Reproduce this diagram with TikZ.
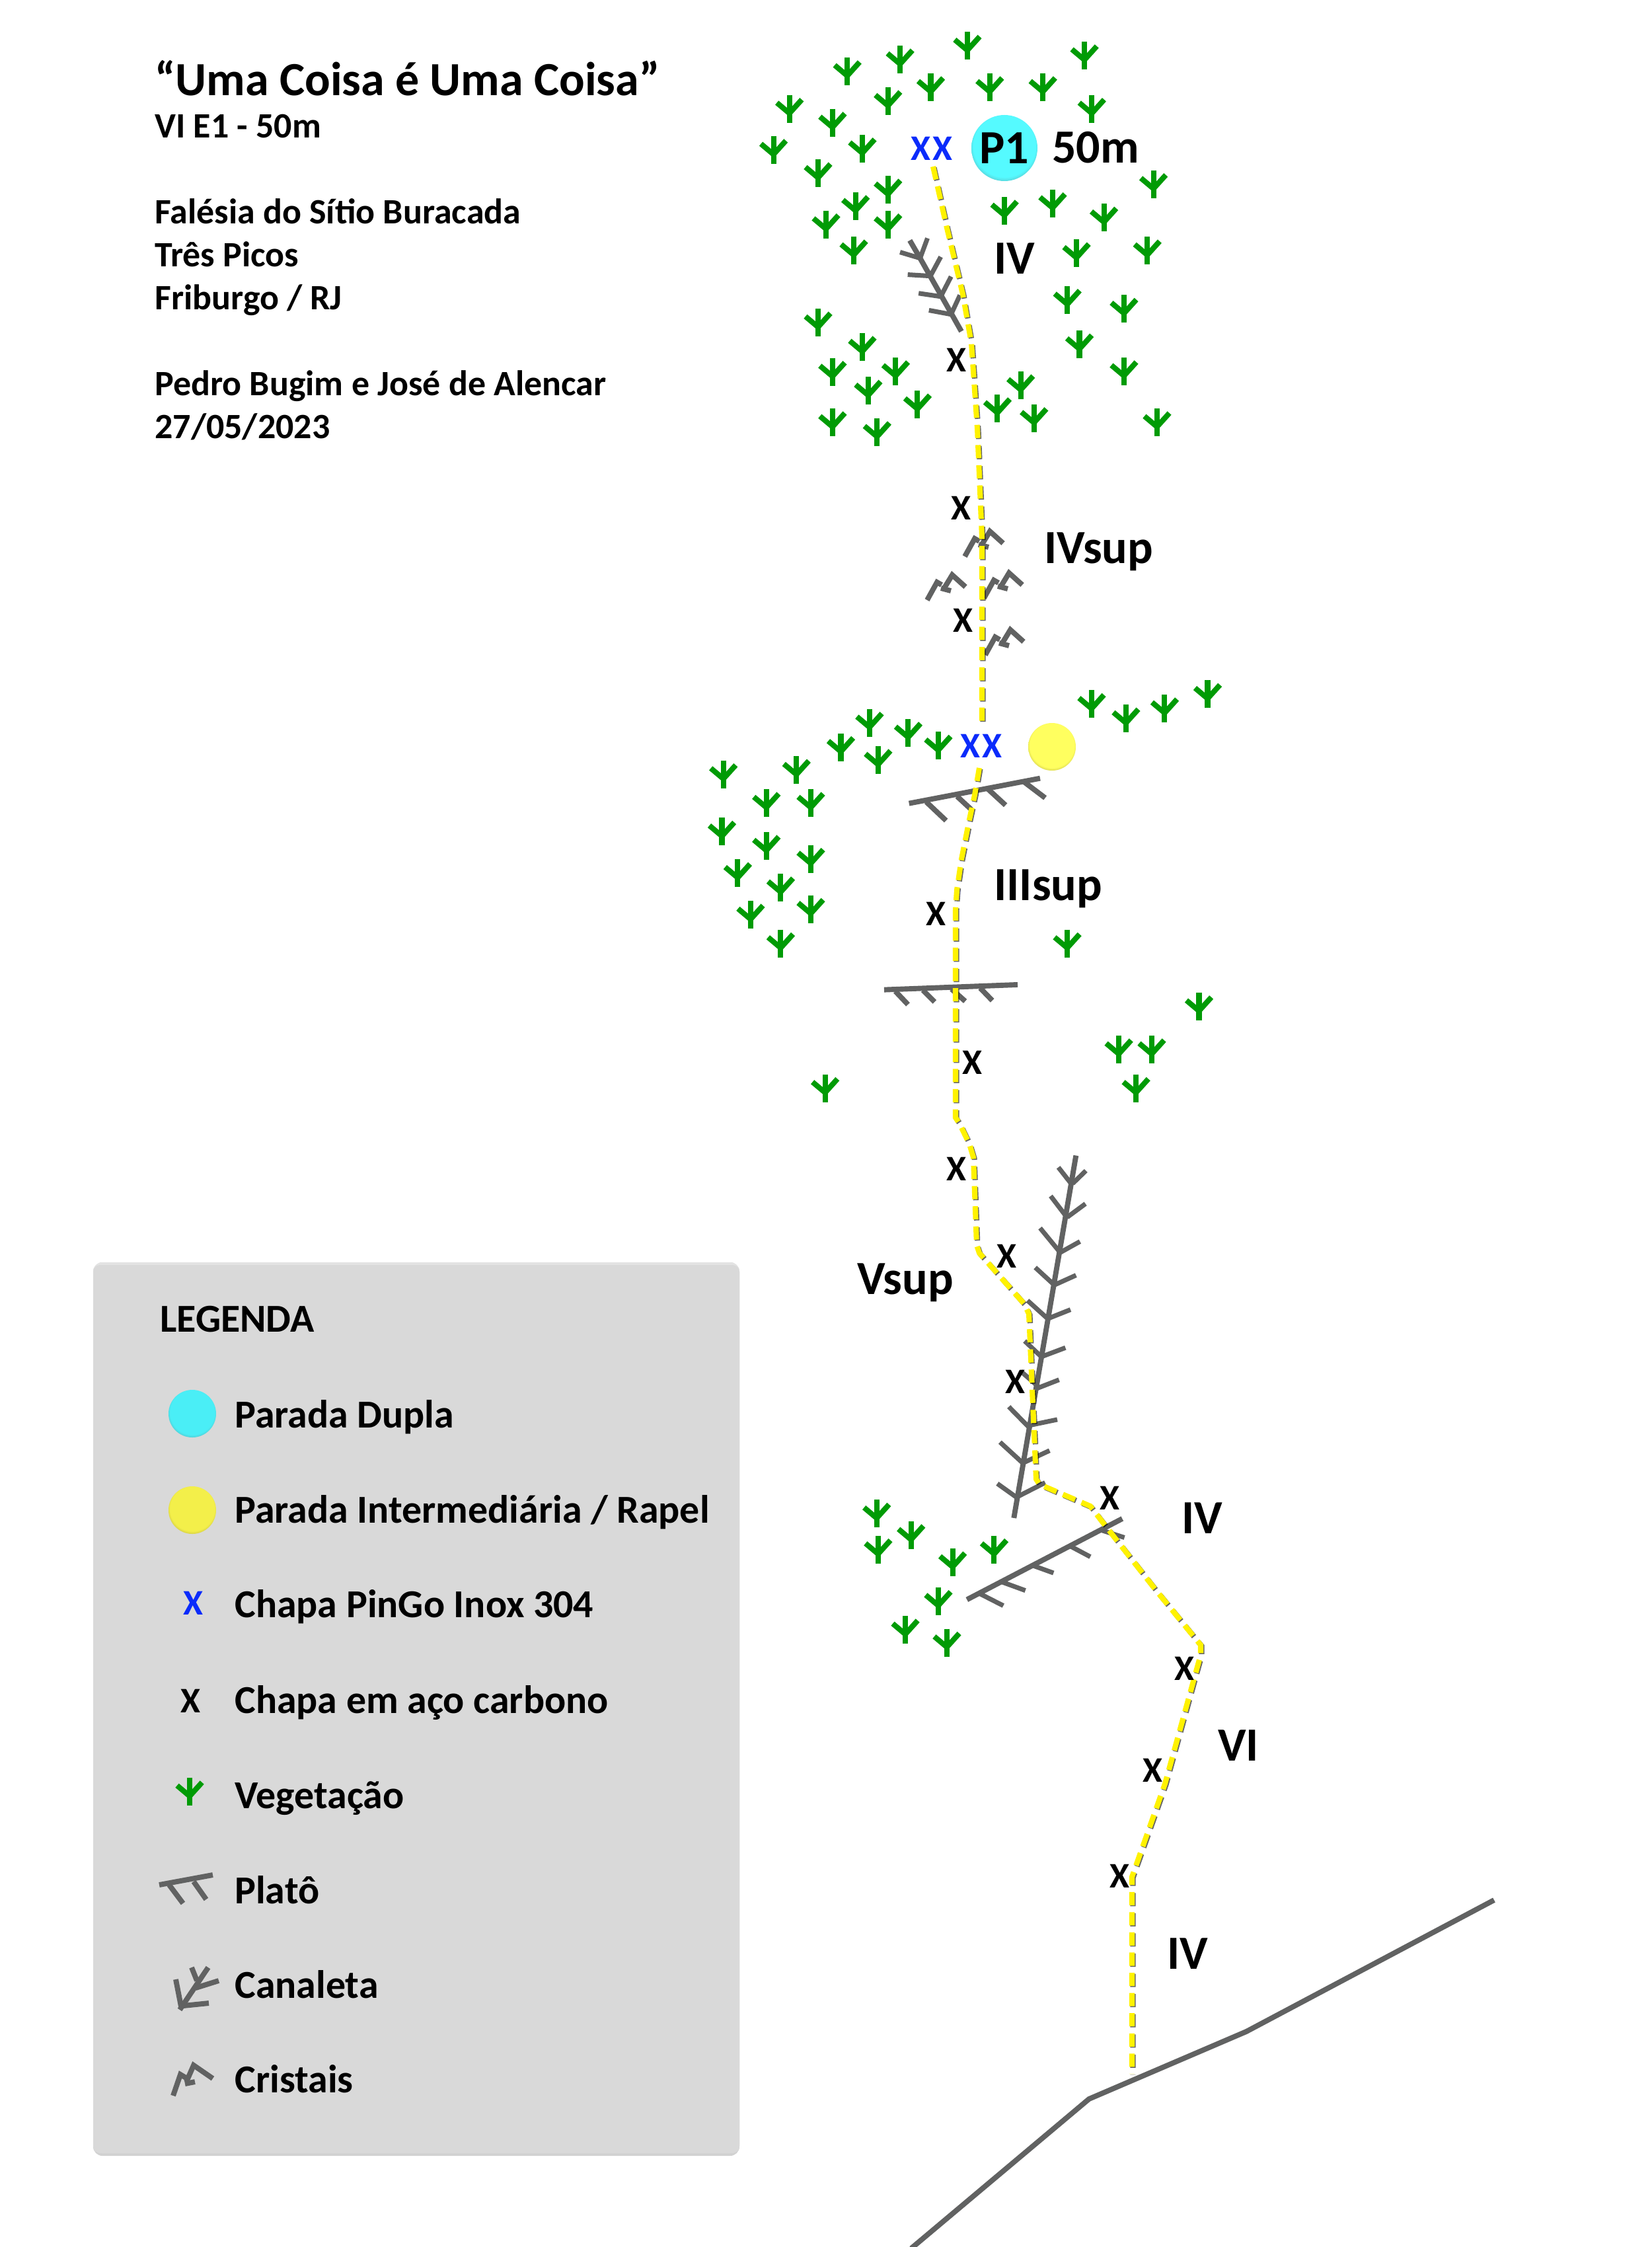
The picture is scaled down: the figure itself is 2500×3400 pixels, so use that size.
\documentclass[tikz,border=0pt]{standalone}
\usepackage{fontspec}
\setmainfont{Carlito}
\definecolor{veg}{HTML}{009B05}
\definecolor{rock}{HTML}{616262}
\definecolor{bolt}{HTML}{0B2BFB}
\definecolor{panel}{HTML}{D9D9D9}
\definecolor{cyanmain}{HTML}{55FAFF}
\definecolor{cyanedge}{HTML}{5AA8AE}
\definecolor{yelmain}{HTML}{FFFF5F}
\definecolor{yeledge}{HTML}{B0A840}
\definecolor{cyanleg}{HTML}{4AEEF6}
\definecolor{yelleg}{HTML}{F3EF4A}
\pgfdeclareradialshading{ballcyan}{\pgfpoint{0bp}{3bp}}{color(0bp)=(cyanmain);color(23.5bp)=(cyanmain);color(26bp)=(cyanmain!65!cyanedge);color(28bp)=(cyanedge);color(50bp)=(cyanedge)}
\pgfdeclareradialshading{ballyel}{\pgfpoint{0bp}{3bp}}{color(0bp)=(yelmain);color(23.5bp)=(yelmain);color(26bp)=(yelmain!65!yeledge);color(28bp)=(yeledge);color(50bp)=(yeledge)}
\pgfdeclareradialshading{legcyan}{\pgfpoint{0bp}{3bp}}{color(0bp)=(cyanleg);color(23.5bp)=(cyanleg);color(26bp)=(cyanleg!65!cyanedge);color(28bp)=(cyanedge);color(50bp)=(cyanedge)}
\pgfdeclareradialshading{legyel}{\pgfpoint{0bp}{3bp}}{color(0bp)=(yelleg);color(23.5bp)=(yelleg);color(26bp)=(yelleg!65!yeledge);color(28bp)=(yeledge);color(50bp)=(yeledge)}
\newcommand{\fLab}{\fontsize{41}{48}\selectfont\bfseries}
\newcommand{\fTitle}{\fontsize{41}{46}\selectfont\bfseries}
\newcommand{\fInfo}{\fontsize{30.7}{34}\selectfont\bfseries}
\newcommand{\fLeg}{\fontsize{34.1}{37}\selectfont\bfseries}
\newcommand{\fBolt}{\fontsize{31}{37}\selectfont\bfseries}
\tikzset{
  plant/.pic={
    \draw[veg,line width=4.6pt] (0,-21)--(0,21);
    \draw[veg,line width=4.6pt] (-19,-9.3)--(0,6.7)--(18.7,-14);
  },
  rockline/.style={draw=rock,line width=4.5pt},
  rockthin/.style={draw=rock,line width=4pt},
  route/.style={draw=yellow,line width=4.6pt,dash pattern=on 11.4pt off 6pt},
  routeshadow/.style={draw=black,opacity=.6,line width=4.6pt,dash pattern=on 11.4pt off 6pt,shift={(1.5,1.5)}},
  txt/.style={anchor=base west,inner sep=0pt,text=black},
  blackmark/.style={inner sep=0pt,text=black,font=\fBolt},
  bluemark/.style={inner sep=0pt,text=bolt,font=\fBolt},
  crystal/.pic={
    \draw[rockline] (0,0)--(15,-27)--(22,-23);
    \draw[rockline] (24,-15)--(38,-38)--(58,-20);
    \draw[rockline] (21,-18)--(36,-14);
  }
}
\begin{document}
\begin{tikzpicture}[x=0.02cm,y=-0.02cm]
\useasboundingbox (0,0) rectangle (2500,3400);
\fill[white] (0,0) rectangle (2500,3400);

% title block
\node[txt,font=\fTitle] (title) at (234,145) {“Uma Coisa é Uma Coisa”};
\node[txt,font=\fInfo] (t1) at (234,209) {VI E1 - 50m};
\node[txt,font=\fInfo] (t2) at (234,338) {Falésia do Sítio Buracada};
\node[txt,font=\fInfo] (t3) at (234,403) {Três Picos};
\node[txt,font=\fInfo] (t4) at (234,468) {Friburgo / RJ};
\node[txt,font=\fInfo] (t5) at (234,598) {Pedro Bugim e José de Alencar};
\node[txt,font=\fInfo] (t6) at (234,663) {27/05/2023};

% vegetation
\foreach \x/\y in {815/95,1212/130,587/145,408/188,691/246,891/246,1071/246,546/297,1237/325,212/325,358/376,158/475,459/470,309/560,1446/600,546/620,436/680,1104/670,941/697,1278/722,546/747,336/747,430/842,1185/852,1425/842,1154/1022,1346/1055,309/1105,1195/1185,459/1194,358/1285,572/1283,1346/1283,996/1334,479/1354,646/1404,917/1418,1041/1454,358/1469,1458/1469,509/1505}
  \pic at ({1100+\x/2.24},{30+\y/2.412}) {plant};
\foreach \x/\y in {761/491,785/501,812/494,842/484,606/504,586/521,633/511,654/520,612/530,555/537,504/540,534/560,565/560,503/580,534/590,565/599,514/609,544/619,523/638,565/634,544/658,744/658,836/702,780/732,803/732,792/759,575/759,611/1056,612/1081,635/1071,664/1090,693/1081,654/1117,631/1137,660/1146}
  \pic at ({\x*2.168+2},{\y*2.168+1}) {plant};

% upper canaleta
\begin{scope}[shift={(1100,30)},xscale=0.4464,yscale=0.4146]
  \draw[rockline] (795,1137)--(655,870)--(620,805);
  \draw[rockthin] (760,1075)--(685,1060) (760,1075)--(790,1005);
  \draw[rockthin] (725,1010)--(650,998) (725,1010)--(760,937);
  \draw[rockthin] (690,935)--(613,930) (690,935)--(725,865);
  \draw[rockthin] (655,870)--(587,848) (655,870)--(680,797);
\end{scope}

% crystals
\foreach \x/\y in {1460/842,1403/908,1489/905,1491/991}
  \pic at (\x,\y) {crystal};

% plateaus
\begin{scope}[shift={(1300,1100)},xscale=0.3333,yscale=0.3333]
  \draw[rockline] (227,347)--(822,233);
  \draw[rockline] (305,340)--(395,425) (445,315)--(510,375) (578,275)--(665,355) (750,250)--(845,322);
  \draw[rockline] (114,1193)--(720,1170);
  \draw[rockline] (165,1200)--(222,1260) (290,1195)--(343,1248) (420,1190)--(482,1245) (550,1185)--(605,1242);
\end{scope}

% lower canaleta and plateau
\begin{scope}[shift={(1300,1700)},xscale=0.3333,yscale=0.5102]
  \draw[rockline] (703,1170)--(985,95);
  \draw[rockthin] (718,1110)--(628,1068) (725,1105)--(845,1065);
  \draw[rockthin] (740,1005)--(640,945) (750,1005)--(865,970);
  \draw[rockthin] (770,900)--(680,840) (775,895)--(900,878);
  \draw[rockthin] (805,775)--(735,735) (810,785)--(908,760);
  \draw[rockthin] (825,690)--(752,645) (835,690)--(937,665);
  \draw[rockthin] (855,578)--(765,525) (860,578)--(960,552);
  \draw[rockthin] (885,478)--(800,427) (890,478)--(985,450);
  \draw[rockthin] (910,380)--(822,310) (915,382)--(1003,350);
  \draw[rockthin] (940,275)--(870,215) (945,278)--(1028,238);
  \draw[rockthin] (965,180)--(905,130) (970,178)--(1030,140);
  \draw[rockline] (490,1412)--(1195,1172);
  \draw[rockthin] (550,1395)--(655,1430) (650,1360)--(755,1385) (785,1310)--(883,1333) (955,1252)--(1050,1285) (1095,1205)--(1205,1228);
\end{scope}

% ground
\draw[rockline] (1379,3402)--(1648,3176)--(1886,3074)--(2261,2875);

% route
\path[routeshadow] (1412,252)--(1433,345)--(1457,445)--(1470,519)--(1479,648)--(1486,813)--(1486,1100);
\path[route] (1412,252)--(1433,345)--(1457,445)--(1470,519)--(1479,648)--(1486,813)--(1486,1100);
\path[routeshadow] (1482,1162)--(1475,1203)--(1467,1240)--(1455,1300)--(1448,1347)--(1446,1377)--(1446,1691)--(1452,1700)--(1467,1731)--(1473,1751)--(1478,1884)--(1482,1896)--(1550,1973)--(1557,1988)--(1568,2238)--(1573,2246)--(1650,2279)--(1670,2305)--(1750,2407)--(1817,2489)--(1817,2504)--(1763,2699)--(1713,2840)--(1713,3138);
\path[route] (1482,1162)--(1475,1203)--(1467,1240)--(1455,1300)--(1448,1347)--(1446,1377)--(1446,1691)--(1452,1700)--(1467,1731)--(1473,1751)--(1478,1884)--(1482,1896)--(1550,1973)--(1557,1988)--(1568,2238)--(1573,2246)--(1650,2279)--(1670,2305)--(1750,2407)--(1817,2489)--(1817,2504)--(1763,2699)--(1713,2840)--(1713,3138);

% bolts
\foreach \x/\y [count=\i] in {1447/545,1454/769,1457/939,1416/1383,1471/1608,1447/1769,1523/1901,1536/2091,1679/2267,1792/2525,1744/2679,1694/2839}
  \node[blackmark] (bk\i) at (\x,\y) {X};
\node[bluemark] (xx1) at (1410,225) {X\kern2pt X};
\node[bluemark] (xx2) at (1485,1129) {X\kern2pt X};

% stops
\shade[shading=ballcyan] (1520,224) circle[radius=50];
\node[inner sep=0pt,font=\fLab] (p1) at (1520,224) {P1};
\shade[shading=ballyel] (1592,1130) circle[radius=36];

% grade labels
\node[txt,font=\fLab] (l50) at (1592,247) {50m};
\node[txt,font=\fLab] (g1) at (1504,414) {IV};
\node[txt,font=\fLab] (g2) at (1580,852) {IVsup};
\node[txt,font=\fLab] (g3) at (1504,1362) {IIIsup};
\node[txt,font=\fLab] (g4) at (1297,1958) {Vsup};
\node[txt,font=\fLab] (g5) at (1788,2320) {IV};
\node[txt,font=\fLab] (g6) at (1843,2664) {VI};
\node[txt,font=\fLab] (g7) at (1766,2979) {IV};

% legend panel
\fill[black!18,rounded corners=8] (141,1910) rectangle (1119,3262);
\fill[black!11,rounded corners=8] (141,1910) rectangle (1119,3258);
\fill[panel,rounded corners=6] (141,1914) rectangle (1119,3258);
\node[txt,font=\fLeg] (lt) at (242,2015) {LEGENDA};
\shade[shading=legcyan] (291,2139) circle[radius=36];
\node[txt,font=\fLeg] (l1) at (355,2160) {Parada Dupla};
\shade[shading=legyel] (291,2285) circle[radius=36];
\node[txt,font=\fLeg] (l2) at (355,2304) {Parada Intermediária / Rapel};
\node[bluemark] (lb) at (292,2426) {X};
\node[txt,font=\fLeg] (l3) at (355,2447) {Chapa PinGo Inox 304};
\node[blackmark] (lk) at (288,2574) {X};
\node[txt,font=\fLeg] (l4) at (355,2592) {Chapa em aço carbono};
\pic at (287,2711) {plant};
\node[txt,font=\fLeg] (l5) at (355,2736) {Vegetação};
\draw[rockline] (241,2852)--(322,2837);
\draw[rockline] (256,2852)--(277,2880) (293,2847)--(312,2874);
\node[txt,font=\fLeg] (l6) at (355,2880) {Platô};
\draw[rockline] (272,3041)--(315,2977);
\draw[rockline] (274,3036)--(266,2995) (277,3035)--(316,3031) (296,3008)--(331,2997) (298,2997)--(290,2977);
\node[txt,font=\fLeg] (l7) at (355,3023) {Canaleta};
\draw[rockline] (262,3171)--(273,3139)--(283,3145);
\draw[rockline] (282,3150)--(293,3125)--(322,3145);
\draw[rockline] (280,3153)--(295,3150);
\node[txt,font=\fLeg] (l8) at (355,3166) {Cristais};
\end{tikzpicture}
\end{document}
